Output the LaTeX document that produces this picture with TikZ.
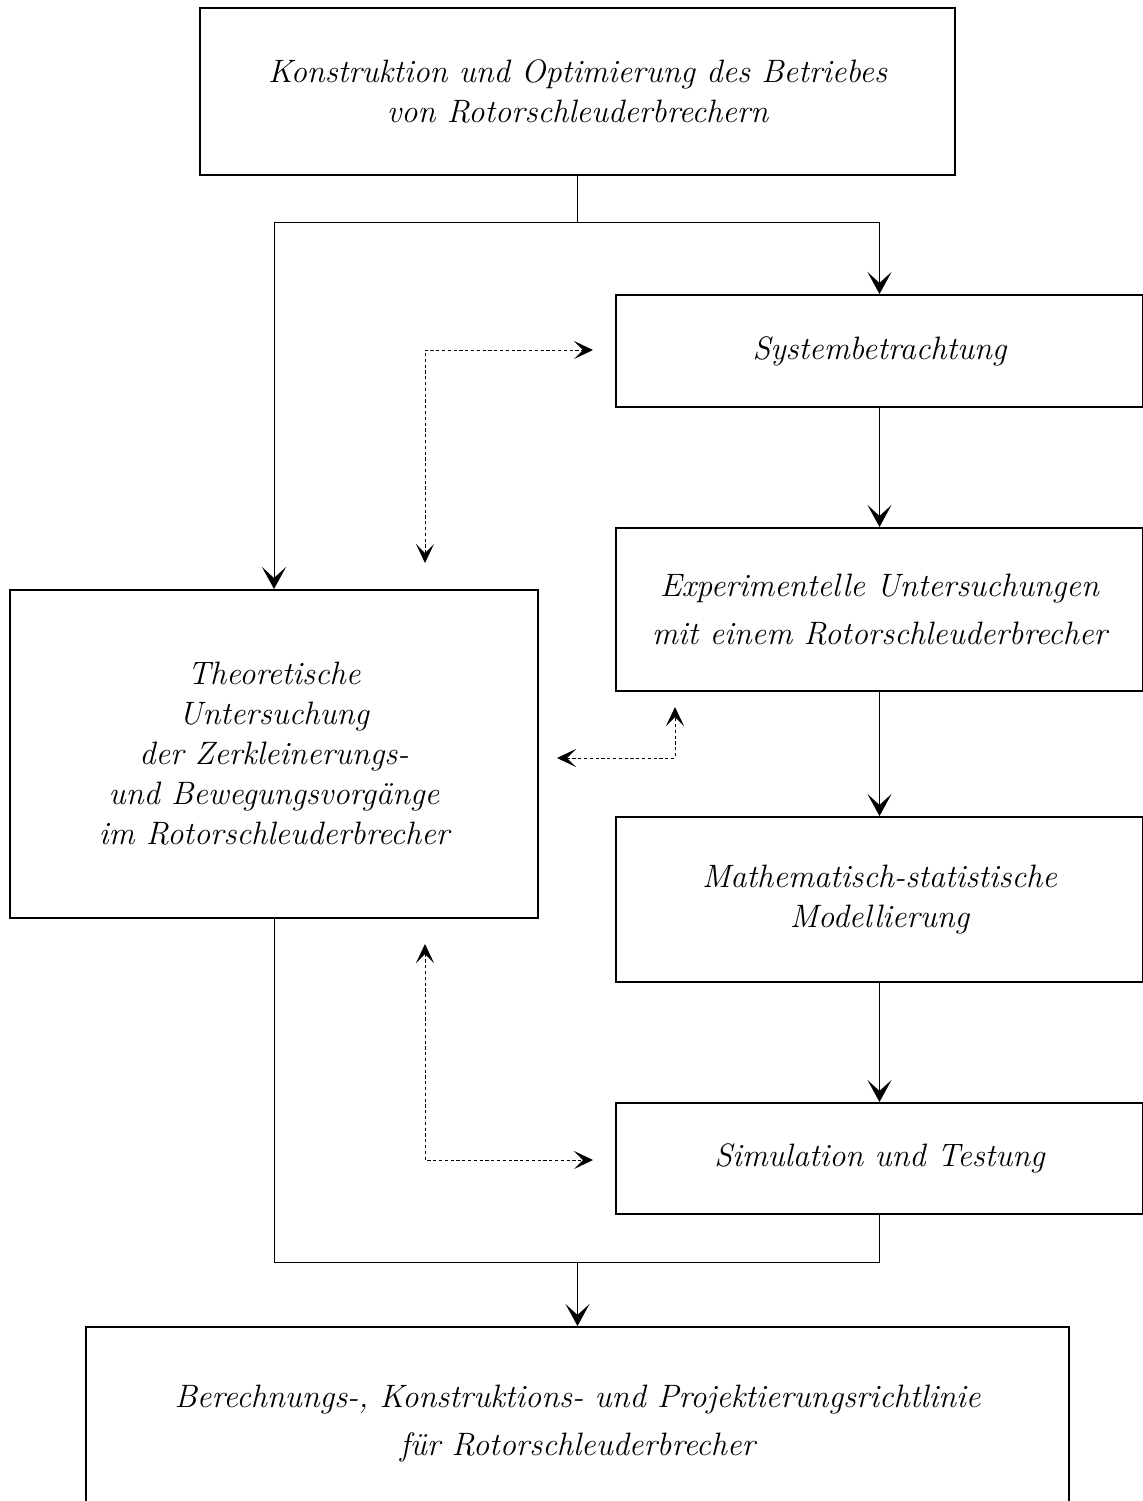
\documentclass[tikz,border=0pt]{standalone}
\usetikzlibrary{arrows.meta}
\begin{document}
\begin{tikzpicture}[x=0.5pt,y=-0.5pt,
  box/.style={draw,line width=1pt,inner sep=0pt,align=center,font=\fontsize{16.2}{20}\selectfont\itshape},
  conn/.style={line width=0.45pt},
  tip/.style={-{Stealth[length=11pt,width=12pt,inset=5.5pt]}},
  dots/.style={line width=0.5pt,dash pattern=on 1.6pt off 1.3pt},
  dtips/.style={{Stealth[length=9.5pt,width=9pt,inset=4.5pt]}-{Stealth[length=9.5pt,width=9pt,inset=4.5pt]}}]
\useasboundingbox (0,0) rectangle (1143,1501);
\node[box,minimum width=377.5pt,minimum height=83.5pt] (top) at (577.5,91.5)
  {Konstruktion und Optimierung des Betriebes\\von Rotorschleuderbrechern};
\node[box,minimum width=263.5pt,minimum height=56pt] (sys) at (879.5,351) {Systembetrachtung};
\node[box,minimum width=263.5pt,minimum height=81.5pt] (exp) at (879.5,609.5)
  {Experimentelle Untersuchungen\\[4pt]mit einem Rotorschleuderbrecher};
\node[box,minimum width=263.5pt,minimum height=82.5pt] (math) at (879.5,899.5)
  {Mathematisch-statistische\\Modellierung};
\node[box,minimum width=263.5pt,minimum height=55.5pt] (sim) at (879.5,1158.5) {Simulation und Testung};
\node[box,minimum width=264pt,minimum height=164pt] (theo) at (274,754)
  {Theoretische\\Untersuchung\\der Zerkleinerungs-\\und Bewegungsvorgänge\\im Rotorschleuderbrecher};
\node[box,minimum width=491.5pt,minimum height=96.5pt] (bot) at (577.5,1423.5)
  {Berechnungs-, Konstruktions- und Projektierungsrichtlinie\\[4pt]für Rotorschleuderbrecher};
\coordinate (j1) at (577.5,222);
\coordinate (j2) at (577.5,1262);
\draw[conn] (top.south) -- (j1);
\draw[conn,tip] (j1) -| (theo.north);
\draw[conn,tip] (j1) -| (sys.north);
\draw[conn,tip] (sys.south) -- (exp.north);
\draw[conn,tip] (exp.south) -- (math.north);
\draw[conn,tip] (math.south) -- (sim.north);
\draw[conn] (theo.south) |- (j2) -| (sim.south);
\draw[conn,tip] (j2) -- (bot.north);
\coordinate (a1) at (425,563);
\coordinate (a2) at (425,350);
\coordinate (a3) at (593,350);
\draw[dots,dtips] (a1) -- (a2) -- (a3);
\coordinate (b1) at (557,758);
\coordinate (b2) at (675,758);
\coordinate (b3) at (675,707);
\draw[dots,dtips] (b1) -- (b2) -- (b3);
\coordinate (c1) at (425,944);
\coordinate (c2) at (425,1160);
\coordinate (c3) at (593,1160);
\draw[dots,dtips] (c1) -- (c2) -- (c3);
\end{tikzpicture}
\end{document}
